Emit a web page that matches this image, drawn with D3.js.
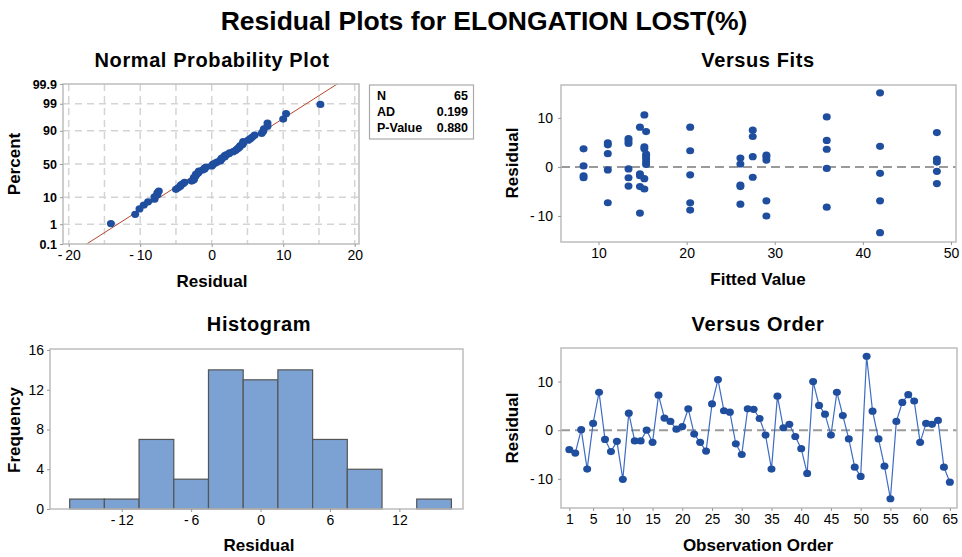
<!DOCTYPE html>
<html>
<head>
<meta charset="utf-8">
<script src="https://cdn.jsdelivr.net/npm/d3@7"></script>
<style>
  body { margin: 0; background: #fff; }
  svg { display: block; font-family: "Liberation Sans", Arial, sans-serif; }
  .tick text { font-size: 14px; fill: #000; }
  .domain { display: none; }
  .tick line { stroke: #999; }
</style>
</head>
<body>
<svg id="chart" width="962" height="557"></svg>
<script>
// residuals in observation order
const residuals = [
  -4.0, -4.7, 0.1, -8.0, 1.4, 7.8, -1.9, -4.4, -2.3, -10.1,
  3.5, -2.2, -2.2, 0.0, -2.5, 7.2, 2.5, 1.8, 0.2, 0.75,
  4.4, -0.8, -2.5, -4.3, 5.4, 10.4, 4.0, 3.7, -2.8, -5.0,
  4.4, 4.3, 2.4, -1.0, -8.0, 7.0, 0.5, 1.2, -1.3, -3.8,
  -8.9, 10.0, 5.1, 3.3, -1.0, 7.8, 3.0, -1.8, -7.6, -9.5,
  15.2, 3.9, -1.8, -7.4, -14.1, 1.8, 5.7, 7.3, 6.0, -2.5,
  1.4, 1.2, 2.0, -7.6, -10.7
];

// versus fits panel: fitted value and residual pairs
const fitsX = [
  8.3, 8.3, 8.3, 8.3,
  11.05, 11.05, 11.05, 11.05, 11.05,
  13.4, 13.4, 13.4, 13.4, 13.4, 13.4,
  14.7, 14.7, 14.7, 14.7, 14.7,
  15.2, 15.2, 15.2, 15.2, 15.2,
  15.4, 15.4, 15.4, 15.4, 15.4, 15.4,
  20.4, 20.4, 20.4, 20.4, 20.4,
  26.1, 26.1, 26.1, 26.1, 26.1,
  27.5, 27.5, 27.5, 27.5,
  29.05, 29.05, 29.05, 29.05, 29.05,
  35.9, 35.9, 35.9, 35.9, 35.9,
  41.95, 41.95, 41.95, 41.95, 41.95,
  48.4, 48.4, 48.4, 48.4, 48.4
];
const fitsResid = [
  3.7, 0.2, -1.8, -2.2,
  4.9, 4.5, 2.7, -0.6, -7.3,
  5.8, 5.3, 4.8, -0.4, -2.2, -3.9,
  8.1, -1.4, -1.8, -4.0, -9.4,
  10.6, 4.1, 3.7, -2.4, -4.5,
  7.2, 2.6, 2.1, 1.6, 1.0, 0.5,
  8.1, 3.3, -1.6, -7.3, -8.8,
  1.8, 0.6, -3.7, -4.0, -7.6,
  7.5, 6.2, 2.1, -2.1,
  2.4, 2.0, 1.4, -6.9, -10.0,
  10.2, 5.4, 3.6, -0.3, -8.2,
  15.1, 4.2, -1.3, -6.9, -13.4,
  7.0, 1.6, 1.0, -0.9, -3.4
];

// histogram: bin centres (width 3) and counts
const binCenters = [-15, -12, -9, -6, -3, 0, 3, 6, 9, 12, 15];
const binCounts = [1, 1, 7, 3, 14, 13, 14, 7, 4, 0, 1];

// tick labels
const nppPctTicks = [0.1, 1, 10, 50, 90, 99, 99.9];
const nppPctGrid = [1, 10, 50, 90, 99];
const nppResTicks = [-20, -10, 0, 10, 20];
const fitsTicks = [10, 20, 30, 40, 50];
const residTicks = [-10, 0, 10];
const histXTicks = [-12, -6, 0, 6, 12];
const histYTicks = [0, 4, 8, 12, 16];
const orderTicks = [1, 5, 10, 15, 20, 25, 30, 35, 40, 45, 50, 55, 60, 65];

const statLabels = ["N", "AD", "P-Value"];
const statValues = ["65", "0.199", "0.880"];

const dotColor = "#1f4e9f";
const lineColor = "#3d6cc4";
const frameColor = "#bdbdbd";
// minitab prints negatives with a small gap after the minus
const fmt = d => d < 0 ? "-\u2009" + Math.abs(d) : String(d);

// inverse normal cdf (Acklam)
function qnorm(p) {
  const a = [-39.6968302866538, 220.946098424521, -275.928510446969, 138.357751867269, -30.6647980661472, 2.50662827745924];
  const b = [-54.4760987982241, 161.585836858041, -155.698979859887, 66.8013118877197, -13.2806815528857];
  const c = [-0.00778489400243029, -0.322396458041136, -2.40075827716184, -2.54973253934373, 4.37466414146497, 2.93816398269878];
  const d = [0.00778469570904146, 0.32246712907004, 2.445134137143, 3.75440866190742];
  const pl = 0.02425;
  let q, r;
  if (p < pl) {
    q = Math.sqrt(-2 * Math.log(p));
    return (((((c[0]*q+c[1])*q+c[2])*q+c[3])*q+c[4])*q+c[5]) / ((((d[0]*q+d[1])*q+d[2])*q+d[3])*q+1);
  } else if (p <= 1 - pl) {
    q = p - 0.5; r = q * q;
    return (((((a[0]*r+a[1])*r+a[2])*r+a[3])*r+a[4])*r+a[5])*q / (((((b[0]*r+b[1])*r+b[2])*r+b[3])*r+b[4])*r+1);
  }
  q = Math.sqrt(-2 * Math.log(1 - p));
  return -(((((c[0]*q+c[1])*q+c[2])*q+c[3])*q+c[4])*q+c[5]) / ((((d[0]*q+d[1])*q+d[2])*q+d[3])*q+1);
}

const svg = d3.select("#chart");

svg.append("text")
  .attr("x", 484).attr("y", 30)
  .attr("text-anchor", "middle")
  .style("font-size", "26.5px").style("font-weight", "bold")
  .text("Residual Plots for ELONGATION LOST(%)");

function panelText(title, tx, ty, xl, xlx, xly, yl, ylx, yly) {
  svg.append("text").attr("x", tx).attr("y", ty).attr("text-anchor", "middle")
    .style("font-size", "20px").style("font-weight", "bold").style("letter-spacing", "0.6px").text(title);
  svg.append("text").attr("x", xlx).attr("y", xly).attr("text-anchor", "middle")
    .style("font-size", "17px").style("font-weight", "bold").text(xl);
  svg.append("text").attr("transform", `translate(${ylx},${yly}) rotate(-90)`)
    .attr("text-anchor", "middle")
    .style("font-size", "17px").style("font-weight", "bold").text(yl);
}

function frame(box) {
  svg.append("rect")
    .attr("x", box.x0).attr("y", box.y0)
    .attr("width", box.x1 - box.x0).attr("height", box.y1 - box.y0)
    .attr("fill", "none").attr("stroke", frameColor).attr("stroke-width", 1.5);
}

function clipFor(id, box) {
  svg.append("clipPath").attr("id", id).append("rect")
    .attr("x", box.x0).attr("y", box.y0)
    .attr("width", box.x1 - box.x0).attr("height", box.y1 - box.y0);
}

function dots(sel, data, cx, cy) {
  sel.append("g").selectAll("ellipse").data(data).join("ellipse")
    .attr("cx", cx).attr("cy", cy)
    .attr("rx", 4).attr("ry", 3.6).attr("fill", dotColor);
}

// ---------- Normal probability plot ----------
const npp = {x0: 63, x1: 359, y0: 84, y1: 244};
const nx = d3.scaleLinear().domain([-20.8, 20.6]).range([npp.x0, npp.x1]);
const ny = d3.scaleLinear().domain([qnorm(0.001), qnorm(0.999)]).range([npp.y1, npp.y0]);
const pctY = p => ny(qnorm(p / 100));
clipFor("clipNpp", npp);

const gridG = svg.append("g");
gridG.selectAll("line.h").data(nppPctGrid).join("line")
  .attr("x1", npp.x0).attr("x2", npp.x1)
  .attr("y1", d => pctY(d)).attr("y2", d => pctY(d))
  .attr("stroke", "#d4d4d4").attr("stroke-width", 1.5).attr("stroke-dasharray", "7,5");
gridG.selectAll("line.v").data(d3.range(-20, 21, 5)).join("line")
  .attr("y1", npp.y0).attr("y2", npp.y1)
  .attr("x1", d => nx(d)).attr("x2", d => nx(d))
  .attr("stroke", "#d4d4d4").attr("stroke-width", 1.5).attr("stroke-dasharray", "7,5");

const n = residuals.length;
const mean = d3.mean(residuals), sd = d3.deviation(residuals);
const sorted = residuals.slice().sort(d3.ascending);
const nppPts = sorted.map((r, i) => ({r, z: qnorm((i + 1 - 0.3) / (n + 0.4))}));

svg.append("line").attr("clip-path", "url(#clipNpp)")
  .attr("x1", nx(mean + sd * -3.5)).attr("y1", ny(-3.5))
  .attr("x2", nx(mean + sd * 3.5)).attr("y2", ny(3.5))
  .attr("stroke", "#b5462e").attr("stroke-width", 1);

dots(svg, nppPts, d => nx(d.r), d => ny(d.z));

frame(npp);
svg.append("g").attr("transform", `translate(0,${npp.y1})`)
  .call(d3.axisBottom(nx).tickValues(nppResTicks).tickSize(3).tickPadding(3).tickFormat(fmt));
svg.append("g").attr("transform", `translate(${npp.x0},0)`)
  .call(d3.axisLeft(d3.scaleLinear().domain(ny.domain()).range(ny.range()))
    .tickValues(nppPctTicks.map(p => qnorm(p / 100))).tickSize(3).tickPadding(3)
    .tickFormat((d, i) => nppPctTicks[i]))
  .selectAll("text").style("font-size", "12.5px").style("font-weight", "bold");

panelText("Normal Probability Plot", 212, 67, "Residual", 212, 287, "Percent", 20, 164);

// stats box
const statG = svg.append("g");
statG.append("rect").attr("x", 369.5).attr("y", 85).attr("width", 104).attr("height", 54)
  .attr("fill", "#fff").attr("stroke", "#aaa").attr("stroke-width", 1.2);
statG.selectAll("text.l").data(statLabels).join("text")
  .attr("x", 377).attr("y", (d, i) => 99.5 + i * 16.3)
  .style("font-size", "12.5px").style("font-weight", "bold").text(d => d);
statG.selectAll("text.v").data(statValues).join("text")
  .attr("x", 468).attr("y", (d, i) => 99.5 + i * 16.3).attr("text-anchor", "end")
  .style("font-size", "12.5px").style("font-weight", "bold").text(d => d);

// ---------- Versus fits ----------
const vf = {x0: 561, x1: 956, y0: 85, y1: 242};
const fx = d3.scaleLinear().domain([5.74, 50.57]).range([vf.x0, vf.x1]);
const fy = d3.scaleLinear().domain([-15.3, 16.7]).range([vf.y1, vf.y0]);
svg.append("line").attr("x1", vf.x0).attr("x2", vf.x1)
  .attr("y1", fy(0)).attr("y2", fy(0))
  .attr("stroke", "#9a9a9a").attr("stroke-width", 2).attr("stroke-dasharray", "9,5");
dots(svg, fitsX, d => fx(d), (d, i) => fy(fitsResid[i]));
frame(vf);
svg.append("g").attr("transform", `translate(0,${vf.y1})`)
  .call(d3.axisBottom(fx).tickValues(fitsTicks).tickSize(3).tickPadding(3));
svg.append("g").attr("transform", `translate(${vf.x0},0)`)
  .call(d3.axisLeft(fy).tickValues(residTicks).tickSize(3).tickPadding(5).tickFormat(fmt));
panelText("Versus Fits", 758, 67, "Fitted Value", 758, 285, "Residual", 518, 163);

// ---------- Histogram ----------
const hb = {x0: 50, x1: 463, y0: 349, y1: 509};
const hx = d3.scaleLinear().domain([-18.2, 17.5]).range([hb.x0, hb.x1]);
const hy = d3.scaleLinear().domain([0, 16.1]).range([hb.y1, hb.y0]);
svg.append("g").selectAll("rect").data(binCenters).join("rect")
  .attr("x", d => hx(d - 1.5)).attr("width", d => hx(d + 1.5) - hx(d - 1.5))
  .attr("y", (d, i) => hy(binCounts[i])).attr("height", (d, i) => hy(0) - hy(binCounts[i]))
  .attr("fill", (d, i) => binCounts[i] ? "#7ba2d3" : "none")
  .attr("stroke", (d, i) => binCounts[i] ? "#555" : "none").attr("stroke-width", 1.2);
frame(hb);
svg.append("g").attr("transform", `translate(0,${hb.y1})`)
  .call(d3.axisBottom(hx).tickValues(histXTicks).tickSize(3).tickPadding(3).tickFormat(fmt));
svg.append("g").attr("transform", `translate(${hb.x0},0)`)
  .call(d3.axisLeft(hy).tickValues(histYTicks).tickSize(3).tickPadding(3));
panelText("Histogram", 259, 331, "Residual", 259, 551, "Frequency", 20, 430);

// ---------- Versus order ----------
const vo = {x0: 561, x1: 957, y0: 348, y1: 508};
const ox = d3.scaleLinear().domain([-0.4, 66.2]).range([vo.x0, vo.x1]);
const oy = d3.scaleLinear().domain([-16.0, 16.9]).range([vo.y1, vo.y0]);
svg.append("line").attr("x1", vo.x0).attr("x2", vo.x1)
  .attr("y1", oy(0)).attr("y2", oy(0))
  .attr("stroke", "#9a9a9a").attr("stroke-width", 2).attr("stroke-dasharray", "9,5");
svg.append("path").datum(residuals)
  .attr("fill", "none").attr("stroke", lineColor).attr("stroke-width", 1.2)
  .attr("d", d3.line().x((d, i) => ox(i + 1)).y(d => oy(d)));
dots(svg, residuals, (d, i) => ox(i + 1), d => oy(d));
frame(vo);
svg.append("g").attr("transform", `translate(0,${vo.y1})`)
  .call(d3.axisBottom(ox).tickValues(orderTicks).tickSize(3).tickPadding(3));
svg.append("g").attr("transform", `translate(${vo.x0},0)`)
  .call(d3.axisLeft(oy).tickValues(residTicks).tickSize(3).tickPadding(5).tickFormat(fmt));
panelText("Versus Order", 758, 331, "Observation Order", 758, 551, "Residual", 518, 428);
</script>
</body>
</html>
